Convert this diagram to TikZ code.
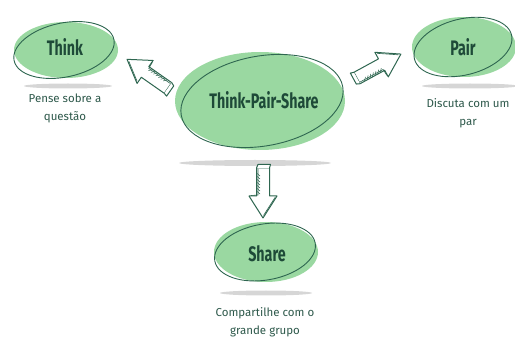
\documentclass[tikz,border=0pt]{standalone}
\usepackage{fontspec}
\setmainfont{Fira Sans}
\newfontfamily\titlefont[FakeStretch=0.68]{Fira Sans}
\definecolor{leaf}{RGB}{154,216,161}
\definecolor{ink}{RGB}{30,74,56}
\definecolor{rim}{RGB}{46,102,80}
\definecolor{labelc}{RGB}{45,88,74}
\definecolor{shade}{RGB}{214,214,214}
\tikzset{
  blob/.style={fill=leaf, draw=none},
  rimline/.style={draw=rim, line width=0.9pt},
  shadowel/.style={fill=shade, draw=none},
  title/.style={font=\titlefont\bfseries\fontsize{21}{22}\selectfont, text=ink, inner sep=0pt},
  label/.style={font=\fontsize{11.5}{18}\selectfont, text=labelc, align=center, inner sep=0pt},
  arrowline/.style={draw=rim, line width=1pt, line join=round},
  barrow/.pic={
    \draw[arrowline, fill=white] (0,-6.5) -- (28,-6.5) -- (28,-14) -- (50,0) -- (28,14) -- (28,6.5) -- (0,6.5) -- cycle;
    \draw[rim, line width=0.6pt] (1,-5) -- (27,-5) -- (27.5,-12);
    \draw[rim, line width=0.6pt] (29.5,12) -- (47.5,0.5);
    \foreach \x in {5,8,...,25} \draw[rim, line width=0.5pt] (\x,-6.5) -- (\x+3,-3);
    \draw[arrowline, fill=white] (0,-6.5) -- (-3.5,-5) -- (-3.5,7.5) -- (0,6.5);
  }
}
\begin{document}
\begin{tikzpicture}[x=1pt,y=1pt]
\useasboundingbox (0,0) rectangle (515,338);
% Think
\fill[shadowel] (68,252) ellipse [x radius=44, y radius=2.5];
\fill[blob] (66,288) ellipse [x radius=52, y radius=28];
\draw[rimline, rotate around={12:(64,288)}] (64,288) ellipse [x radius=51, y radius=27];
\node[title] (think) at (65,291) {Think};
\node[label] (thinklbl) at (65,230) {Pense sobre a\\questão};
% Center
\fill[shadowel] (255,175) ellipse [x radius=76, y radius=3];
\fill[blob] (260,237) ellipse [x radius=85, y radius=49];
\draw[rimline, rotate around={10:(262,237)}] (262,237) ellipse [x radius=82, y radius=45];
\node[title] (tps) at (264,238) {Think-Pair-Share};
% Pair
\fill[shadowel] (470,252) ellipse [x radius=48, y radius=2.5];
\fill[blob] (464,291) ellipse [x radius=52, y radius=30];
\draw[rimline, rotate around={14:(463,291)}] (463,291) ellipse [x radius=50, y radius=28];
\node[title] (pair) at (463,291) {Pair};
\node[label] (pairlbl) at (468,225) {Discuta com um\\par};
% Share
\fill[shadowel] (266,45) ellipse [x radius=46, y radius=2.5];
\fill[blob] (266,86) ellipse [x radius=52, y radius=30];
\draw[rimline, rotate around={10:(265,86)}] (265,86) ellipse [x radius=51, y radius=28];
\node[title] (share) at (267,84) {Share};
\node[label] (sharelbl) at (265,16) {Compartilhe com o\\grande grupo};
% arrows
\coordinate (a1) at (168,250);
\coordinate (a2) at (357,260);
\coordinate (a3) at (263,170);
\pic[rotate=145] at (a1) {barrow};
\pic[rotate=28.6] at (a2) {barrow};
\pic[rotate=-90] at (a3) {barrow};
\end{tikzpicture}
\end{document}
